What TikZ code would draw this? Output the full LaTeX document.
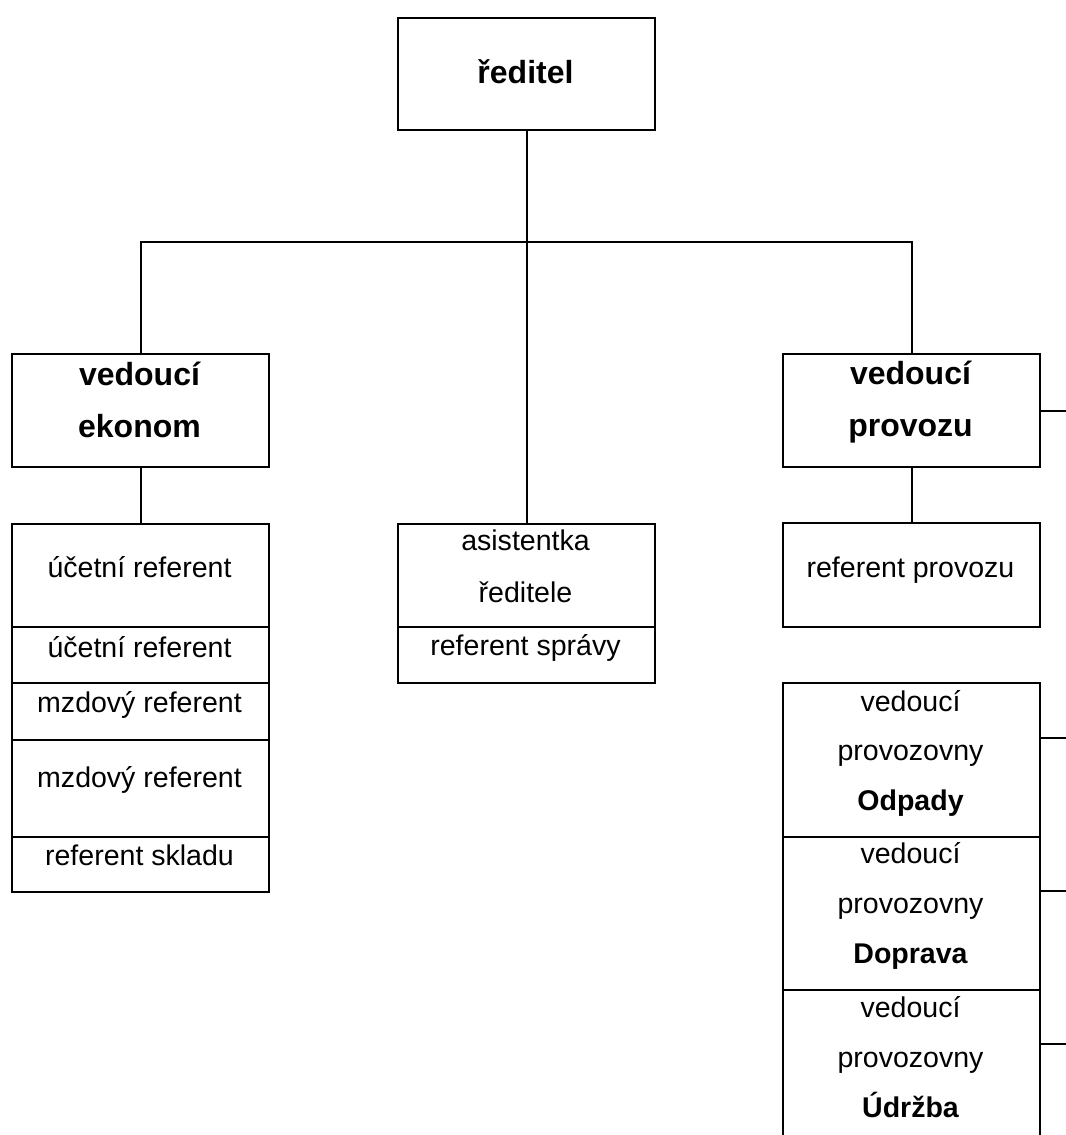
\documentclass[tikz,border=0pt]{standalone}
\usepackage{fontspec}
\setmainfont{Liberation Sans}
\begin{document}
\begin{tikzpicture}[x=0.75pt,y=-0.75pt,
  cellbox/.style={draw, line width=1.5pt, anchor=north west, inner sep=0pt, minimum width=192.75pt},
  conn/.style={draw, line width=1.5pt},
  txt/.style={anchor=base, inner sep=0pt, font=\fontsize{21.4}{25}\selectfont},
  head/.style={anchor=base, inner sep=0pt, font=\fontsize{24}{28}\selectfont\bfseries},
  subhead/.style={anchor=base, inner sep=0pt, font=\fontsize{21.4}{25}\selectfont\bfseries}]
\useasboundingbox (0,0) rectangle (1066,1135);
% boxes
\node[cellbox, minimum height=84pt] (boss) at (397,17) {};
\node[cellbox, minimum height=84.75pt] (ekon) at (11,353) {};
\node[cellbox, minimum height=84.75pt] (prov) at (782,353) {};
% left column
\node[cellbox, minimum height=77.25pt] (l1) at (11,523) {};
\node[cellbox, minimum height=42pt] (l2) at (11,626) {};
\node[cellbox, minimum height=42.75pt] (l3) at (11,682) {};
\node[cellbox, minimum height=72.75pt] (l4) at (11,739) {};
\node[cellbox, minimum height=41.25pt] (l5) at (11,836) {};
% middle column
\node[cellbox, minimum height=77.25pt] (m1) at (397,523) {};
\node[cellbox, minimum height=42pt] (m2) at (397,626) {};
% right column
\node[cellbox, minimum height=78pt] (rp) at (782,522) {};
\node[cellbox, minimum height=115.5pt] (r1) at (782,682) {};
\node[cellbox, minimum height=114.75pt] (r2) at (782,836) {};
\node[cellbox, minimum height=115.5pt] (r3) at (782,989) {};
% texts
\node[head] (t0) at (525.5,83) {ředitel};
\node[head] (te1) at (139.5,385) {vedoucí};
\node[head] (te2) at (139.5,437) {ekonom};
\node[head] (tp1) at (910.5,384) {vedoucí};
\node[head] (tp2) at (910.5,436) {provozu};
\node[txt] (tl1) at (139.5,577) {účetní referent};
\node[txt] (tl2) at (139.5,657) {účetní referent};
\node[txt] (tl3) at (139.5,712) {mzdový referent};
\node[txt] (tl4) at (139.5,787) {mzdový referent};
\node[txt] (tl5) at (139.5,865) {referent skladu};
\node[txt] (tm1) at (525.5,550) {asistentka};
\node[txt] (tm2) at (525.5,602) {ředitele};
\node[txt] (tm3) at (525.5,655) {referent správy};
\node[txt] (trp) at (910.5,577) {referent provozu};
\node[txt] (ta1) at (910.5,711) {vedoucí};
\node[txt] (ta2) at (910.5,760) {provozovny};
\node[subhead] (ta3) at (910.5,810) {Odpady};
\node[txt] (tb1) at (910.5,863) {vedoucí};
\node[txt] (tb2) at (910.5,913) {provozovny};
\node[subhead] (tb3) at (910.5,963) {Doprava};
\node[txt] (tc1) at (910.5,1017) {vedoucí};
\node[txt] (tc2) at (910.5,1067) {provozovny};
\node[subhead] (tc3) at (910.5,1117) {Údržba};
% connectors
\coordinate (edge) at (1066,0);
\path[conn] (boss.south) -- (m1.north);
\path[conn] (ekon.north) -- ++(0,-111) -| (prov.north);
\path[conn] (ekon.south) -- (l1.north);
\path[conn] (prov.south) -- (rp.north);
\path[conn] (prov.east) -- (prov.east -| edge);
\path[conn] ([yshift=-42pt]r1.north east) -- ([yshift=-42pt]r1.north east -| edge);
\path[conn] ([yshift=-41.25pt]r2.north east) -- ([yshift=-41.25pt]r2.north east -| edge);
\path[conn] ([yshift=-41.25pt]r3.north east) -- ([yshift=-41.25pt]r3.north east -| edge);
\end{tikzpicture}
\end{document}
